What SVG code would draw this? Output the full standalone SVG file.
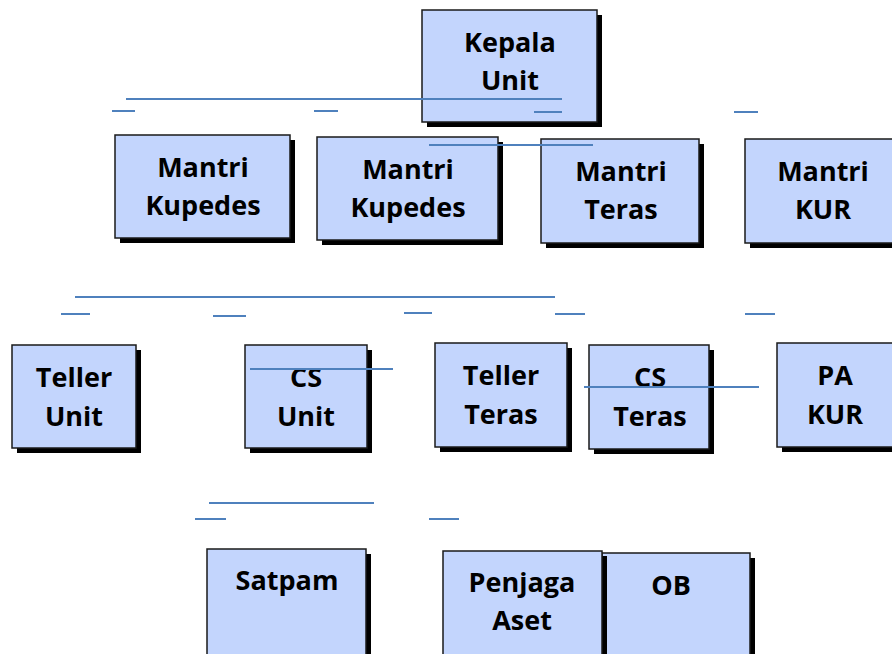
<svg xmlns="http://www.w3.org/2000/svg" width="892" height="654" viewBox="0 0 892 654">
<style>
.box{fill:#C3D5FD;stroke:#1a1a1a;stroke-width:1.5}
.sh{fill:#000}
.t{font-family:"Open Sans","Liberation Sans",sans-serif;font-weight:bold;font-size:27px;fill:#000;text-anchor:middle}
.c line{stroke:#4F81BD;stroke-width:2}
</style>
<rect width="892" height="654" fill="#fff"/>
<g id="kepala-unit"><rect class="sh" x="427" y="15" width="175" height="112"/><rect class="box" x="422" y="10" width="175" height="112"/><text class="t" x="510" y="52">Kepala</text><text class="t" x="510" y="90">Unit</text></g>
<g id="mantri-kupedes-1"><rect class="sh" x="120" y="140" width="175" height="103"/><rect class="box" x="115" y="135" width="175" height="103"/><text class="t" x="203" y="177">Mantri</text><text class="t" x="203" y="215">Kupedes</text></g>
<g id="mantri-kupedes-2"><rect class="sh" x="322" y="142" width="181" height="103"/><rect class="box" x="317" y="137" width="181" height="103"/><text class="t" x="408" y="179">Mantri</text><text class="t" x="408" y="217">Kupedes</text></g>
<g id="mantri-teras"><rect class="sh" x="546" y="144" width="158" height="104"/><rect class="box" x="541" y="139" width="158" height="104"/><text class="t" x="621" y="181">Mantri</text><text class="t" x="621" y="219">Teras</text></g>
<g id="mantri-kur"><rect class="sh" x="750" y="144" width="160" height="104"/><rect class="box" x="745" y="139" width="160" height="104"/><text class="t" x="823" y="181">Mantri</text><text class="t" x="823" y="219">KUR</text></g>
<g id="teller-unit"><rect class="sh" x="17" y="350" width="124" height="103"/><rect class="box" x="12" y="345" width="124" height="103"/><text class="t" x="74" y="387">Teller</text><text class="t" x="74" y="426">Unit</text></g>
<g id="cs-unit"><rect class="sh" x="250" y="350" width="122" height="103"/><rect class="box" x="245" y="345" width="122" height="103"/><text class="t" x="306" y="387">CS</text><text class="t" x="306" y="426">Unit</text></g>
<g id="teller-teras"><rect class="sh" x="440" y="348" width="132" height="104"/><rect class="box" x="435" y="343" width="132" height="104"/><text class="t" x="501" y="385">Teller</text><text class="t" x="501" y="424">Teras</text></g>
<g id="cs-teras"><rect class="sh" x="594" y="350" width="120" height="104"/><rect class="box" x="589" y="345" width="120" height="104"/><text class="t" x="650" y="387">CS</text><text class="t" x="650" y="426">Teras</text></g>
<g id="pa-kur"><rect class="sh" x="782" y="348" width="130" height="104"/><rect class="box" x="777" y="343" width="130" height="104"/><text class="t" x="835" y="385">PA</text><text class="t" x="835" y="424">KUR</text></g>
<g id="satpam"><rect class="sh" x="212" y="554" width="159" height="110"/><rect class="box" x="207" y="549" width="159" height="110"/><text class="t" x="287" y="590">Satpam</text></g>
<g id="ob"><rect class="sh" x="607" y="558" width="148" height="110"/><rect class="box" x="602" y="553" width="148" height="110"/><text class="t" x="671" y="595">OB</text></g>
<g id="penjaga-aset"><rect class="sh" x="448" y="556" width="159" height="110"/><rect class="box" x="443" y="551" width="159" height="110"/><text class="t" x="522" y="592">Penjaga</text><text class="t" x="522" y="630">Aset</text></g>
<g id="connectors" class="c">
<line x1="126" y1="99" x2="562" y2="99"/>
<line x1="112" y1="111" x2="135" y2="111"/>
<line x1="314" y1="111" x2="338" y2="111"/>
<line x1="534" y1="112" x2="562" y2="112"/>
<line x1="429" y1="145" x2="593" y2="145"/>
<line x1="734" y1="112" x2="758" y2="112"/>
<line x1="75" y1="297" x2="555" y2="297"/>
<line x1="61" y1="314" x2="90" y2="314"/>
<line x1="213" y1="316" x2="246" y2="316"/>
<line x1="404" y1="313" x2="432" y2="313"/>
<line x1="555" y1="314" x2="585" y2="314"/>
<line x1="745" y1="314" x2="775" y2="314"/>
<line x1="250" y1="369" x2="393" y2="369"/>
<line x1="584" y1="387" x2="759" y2="387"/>
<line x1="209" y1="503" x2="374" y2="503"/>
<line x1="195" y1="519" x2="226" y2="519"/>
<line x1="429" y1="519" x2="459" y2="519"/>
</g>
</svg>
